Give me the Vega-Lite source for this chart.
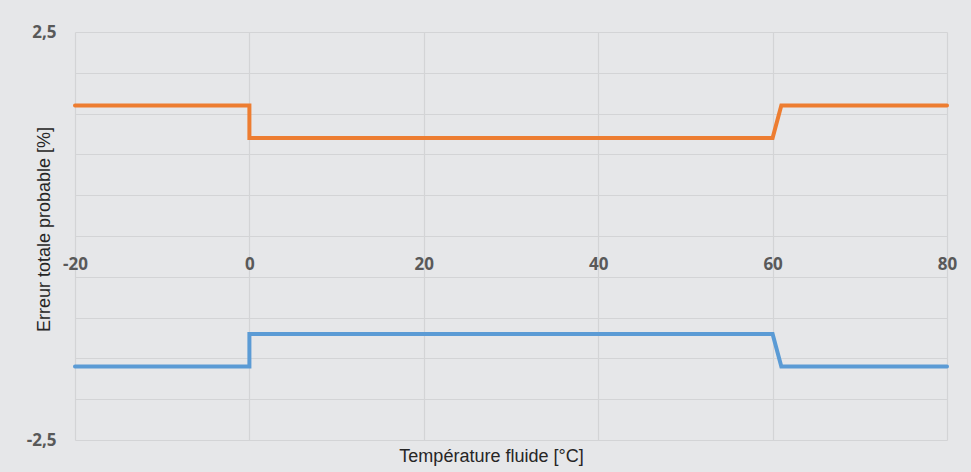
{
  "$schema": "https://vega.github.io/schema/vega-lite/v6.json",
  "width": 872,
  "height": 408,
  "autosize": {"type": "none"},
  "padding": {"left": 75, "top": 32, "right": 24, "bottom": 32},
  "background": "#e6e7e9",
  "config": {
    "view": {"stroke": null},
    "axis": {"gridColor": "#d3d4d6", "gridWidth": 1.2}
  },
  "data": {
    "values": [
      {"serie": "haut", "i": 1, "t": -20, "e": 1.6},
      {"serie": "haut", "i": 2, "t": 0, "e": 1.6},
      {"serie": "haut", "i": 3, "t": 0, "e": 1.2},
      {"serie": "haut", "i": 4, "t": 60, "e": 1.2},
      {"serie": "haut", "i": 5, "t": 61, "e": 1.6},
      {"serie": "haut", "i": 6, "t": 80, "e": 1.6},
      {"serie": "bas", "i": 1, "t": -20, "e": -1.6},
      {"serie": "bas", "i": 2, "t": 0, "e": -1.6},
      {"serie": "bas", "i": 3, "t": 0, "e": -1.2},
      {"serie": "bas", "i": 4, "t": 60, "e": -1.2},
      {"serie": "bas", "i": 5, "t": 61, "e": -1.6},
      {"serie": "bas", "i": 6, "t": 80, "e": -1.6}
    ]
  },
  "mark": {"type": "line", "strokeWidth": 4, "strokeJoin": "miter", "strokeCap": "round"},
  "encoding": {
    "x": {
      "field": "t",
      "type": "quantitative",
      "scale": {"domain": [-20, 80], "nice": false, "zero": false},
      "axis": {
        "values": [-20, 0, 20, 40, 60, 80],
        "labelExpr": "replace(datum.label, '−', '-')",
        "labelFlush": false,
        "labelOverlap": false,
        "labelBound": false,
        "offset": -204,
        "domain": false,
        "ticks": false,
        "labelPadding": 20,
        "labelFont": "Open Sans",
        "labelFontWeight": "bold",
        "labelFontSize": 17,
        "labelColor": "#595959",
        "title": "Température fluide [°C]",
        "titleFont": "Liberation Sans",
        "titleFontWeight": "normal",
        "titleFontSize": 18,
        "titleColor": "#262626",
        "titleBaseline": "top",
        "titleX": 416,
        "titleY": 211
      }
    },
    "y": {
      "field": "e",
      "type": "quantitative",
      "scale": {"domain": [-2.5, 2.5], "nice": false},
      "axis": {
        "values": [-2.5, -2, -1.5, -1, -0.5, 0, 0.5, 1, 1.5, 2, 2.5],
        "format": ".1f",
        "labelExpr": "abs(datum.value) == 2.5 ? replace(replace(datum.label, '.', ','), '−', '-') : ''",
        "labelFlush": false,
        "labelOverlap": false,
        "domain": false,
        "ticks": false,
        "labelPadding": 19,
        "labelFont": "Open Sans",
        "labelFontWeight": "bold",
        "labelFontSize": 17,
        "labelColor": "#595959",
        "title": "Erreur totale probable [%]",
        "titleFont": "Liberation Sans",
        "titleFontWeight": "normal",
        "titleFontSize": 18,
        "titleColor": "#262626",
        "titleBaseline": "alphabetic",
        "titleAlign": "center",
        "titleAngle": -90,
        "titleX": -26,
        "titleY": 197
      }
    },
    "color": {
      "field": "serie",
      "type": "nominal",
      "scale": {"domain": ["haut", "bas"], "range": ["#ed7d31", "#5b9bd5"]},
      "legend": null
    },
    "order": {"field": "i", "type": "quantitative"}
  }
}
